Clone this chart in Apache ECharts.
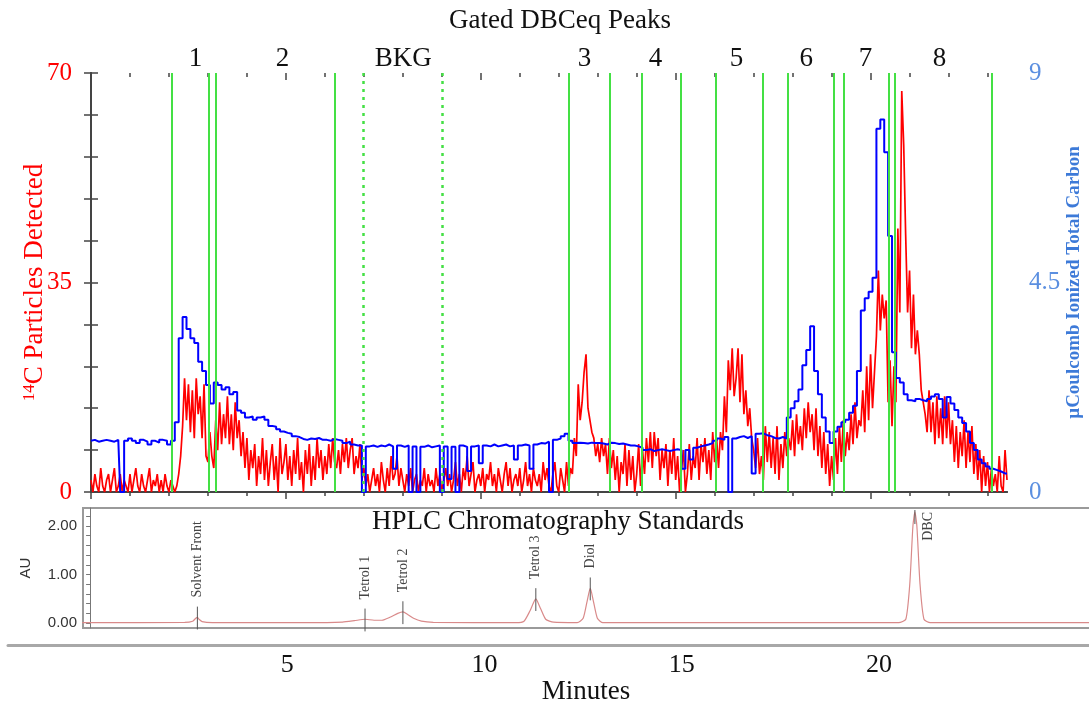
<!DOCTYPE html>
<html><head><meta charset="utf-8">
<script src="https://cdn.jsdelivr.net/npm/echarts@6/dist/echarts.min.js"></script>
<style>html,body{margin:0;padding:0;background:#fff}#c{width:1089px;height:706px}</style>
</head><body><div id="c"></div>
<script>
// ---------- DATA ----------
const redStepMin = 0.05;  // 14C trace sampled every 0.05 min from 0
const blueStepMin = 0.1;  // carbon trace sampled every 0.1 min from 0
const c14Counts = [
  2,0,3,1,0,4,1,0,2,3,   0,2,4,0,1,3,0,2,1,0,
  3,0,2,4,1,0,3,1,0,2,   4,0,2,1,3,0,2,0,3,1,
  0,2,1,0,1,3,6,11,19,12, 18,10,17,9,19,13,16,9,18,6,
  5,10,6,4,12,7,15,8,13,9, 16,8,13,7,15,9,12,6,10,4,
  9,2,7,4,8,1,6,3,9,2,   7,1,5,8,2,6,0,9,3,5,
  8,2,6,1,7,3,9,2,5,0,   7,3,8,1,6,2,9,4,7,2,
  6,3,8,4,9,5,4,7,3,8,   5,9,4,7,9,3,6,4,8,2,
  4,1,3,0,2,4,1,3,0,5,   2,0,4,1,6,2,3,6,1,4,
  2,0,3,1,4,0,2,3,0,2,   1,4,0,3,1,2,0,4,1,3,
  0,2,4,1,3,0,2,5,1,3,   0,4,2,6,1,3,5,0,2,3,
  1,4,0,3,2,5,1,3,0,4,   2,0,3,5,1,4,0,2,3,1,
  4,0,2,5,1,3,0,4,2,1,   3,0,5,2,4,1,0,3,5,1,
  0,4,2,0,5,1,4,3,9,6,   18,12,15,20,23,14,14,10,9,6,
  8,5,9,6,8,3,9,4,7,2,   6,0,5,3,8,1,7,2,6,0,
  3,8,1,7,3,9,5,10,4,10, 6,9,2,7,4,8,1,7,3,9,
  2,6,0,4,7,0,3,8,2,6,   4,9,2,8,5,9,3,7,2,10,
  5,9,4,10,7,16,10,22,17,24, 16,19,24,15,23,13,17,11,14,9,
  7,4,9,3,6,2,11,5,10,4, 9,3,11,2,8,4,10,6,9,7,
  12,6,13,8,11,7,14,9,15,10, 13,7,14,6,11,4,10,3,8,1,
  6,2,9,3,11,5,12,6,10,7, 13,8,15,9,12,11,17,10,21,12,
  23,14,20,26,37,27,33,29,32,15, 22,11,21,15,44,30,67,58,43,30,
  37,24,33,23,27,23,17,15,13,10, 17,10,15,8,16,9,14,8,16,9,
  15,8,12,5,11,4,10,6,12,4, 10,5,11,3,8,2,7,0,6,1,
  5,0,4,1,3,0,6,1,0,7,
  2
];
const totalCarbon = [
  1.1,1.12,1.08,1.1,1.12,1.1,1.08,1.12,0,1.1,
  1.15,1.1,1.05,1.12,1.08,1.02,1.1,1.06,1.12,1.1,
  1.02,1.1,1.5,3.3,3.76,3.5,3.3,3.2,2.8,2.6,
  2.3,1.9,2.35,2.3,2.2,2.25,2.1,2.15,1.75,1.7,
  1.6,1.62,1.55,1.6,1.62,1.55,1.42,1.4,1.35,1.3,
  1.27,1.25,1.2,1.18,1.14,1.12,1.15,1.14,1.16,1.12,
  1.12,1.1,1.14,1.12,1.1,1.05,1.08,1.02,1.0,1.0,
  0,0.98,1.0,0.97,1.0,0.98,1.02,0.98,0.5,1.0,
  0.97,1.0,0,0.98,0,0.97,1.0,0.96,0.98,1.0,
  0,0.98,0.28,0.97,0,1.0,0.97,0.45,0.98,1.0,
  0.62,1.0,0.98,1.02,0.98,1.0,1.02,0.98,1.0,0.7,
  1.0,1.02,1.0,0.5,1.02,1.05,1.04,1.08,0,1.12,
  1.15,1.2,1.25,1.1,1.05,1.06,1.05,1.04,1.06,1.05,
  1.05,1.04,1.02,1.06,1.05,1.03,1.04,1.02,1.0,1.0,
  0.98,0.95,0.9,0.92,0.88,0.9,0.92,0.9,0.88,0.9,
  0.92,0.9,0.5,0.9,0.7,0.95,0.98,1.0,1.02,1.05,
  1.1,1.15,1.12,1.18,0,1.15,1.18,1.2,1.16,1.2,
  0.4,1.25,1.26,1.22,1.2,1.16,1.15,1.18,1.15,1.6,
  1.8,1.95,2.2,2.72,3.05,3.56,2.6,2.1,1.6,1.3,
  1.05,1.3,1.4,1.5,1.55,1.7,1.85,2.6,3.9,4.16,
  4.3,4.6,7.8,8.0,7.3,5.5,3.0,2.45,2.35,2.1,
  1.97,1.95,2.0,1.97,1.95,2.0,2.05,2.1,2.0,1.6,
  2.04,1.9,1.76,1.6,1.48,1.3,1.05,0.9,0.7,0.62,
  0.55,0.5,0.47,0.44,0.4,0.4
];
const gateSolidMin = [2.08, 3.02, 3.19, 6.26, 12.25, 13.30, 14.14, 15.14, 16.02, 17.23, 17.88, 19.06, 19.31, 20.47, 20.63, 23.11];
const gateDottedMin = [6.99, 9.00];
const peakLabels = ['1', '2', 'BKG', '3', '4', '5', '6', '7', '8'];
const peakLabelMin = [2.68, 4.91, 8.01, 12.66, 14.48, 16.56, 18.35, 19.87, 21.77];

const hplcTime = [-0.2, 2.4, 2.6, 2.68, 2.72, 2.76, 2.84, 3.1, 6.0, 6.4, 6.7, 6.97, 7.2, 7.4, 7.6, 7.8, 7.93, 8.05, 8.2, 8.4, 8.7, 10.8, 11.0, 11.15, 11.3, 11.42, 11.55, 11.75, 12.35, 12.5, 12.6, 12.68, 12.76, 12.86, 13.0, 20.5, 20.68, 20.78, 20.86, 20.91, 20.96, 21.04, 21.14, 21.3, 25.4];
const hplcAU = [0.01, 0.015, 0.04, 0.1, 0.12, 0.08, 0.03, 0.01, 0.01, 0.02, 0.05, 0.08, 0.06, 0.06, 0.12, 0.2, 0.23, 0.18, 0.1, 0.04, 0.015, 0.01, 0.04, 0.25, 0.5, 0.3, 0.08, 0.02, 0.01, 0.1, 0.45, 0.72, 0.45, 0.1, 0.01, 0.01, 0.08, 0.8, 2.0, 2.29, 2.0, 0.8, 0.08, 0.01, 0.01];
const hplcNames = ['Solvent Front', 'Tetrol 1', 'Tetrol 2', 'Tetrol 3', 'Diol', 'DBC'];
const hplcPeakMin = [2.72, 6.97, 7.93, 11.3, 12.68, 20.91];
const hplcPeakAU = [0.12, 0.08, 0.23, 0.5, 0.72, 2.29];
const minutesTicks = [5, 10, 15, 20];

// ---------- CHART ----------
const SERIF = '"Liberation Serif", "Times New Roman", serif';
const SANS = '"Liberation Sans", Arial, sans-serif';
const RED = '#ff0000', BLUE = '#0000ff', GREEN = '#44e044';
const AXIS = '#444';
const minuteTicks = []; for (let m = 0; m <= 23; m++) minuteTicks.push(m);
const majorTicks = [0, 5, 10, 15, 20];
const auTicks = []; for (let k = 0; k <= 11; k++) auTicks.push(+(k * 0.2).toFixed(1));

const redPts = c14Counts.map((v, i) => [+(i * redStepMin).toFixed(2), v]);
const bluePts = totalCarbon.map((v, i) => [+(i * blueStepMin).toFixed(2), v]);
const hplcPts = hplcTime.map((t, i) => [t, hplcAU[i]]);
const hplcMarks = hplcPeakMin.map((t, i) => [t, hplcPeakAU[i]]);

const mainGrid = { left: 91, right: 82, top: 73, height: 419, outerBoundsMode: 'none', containLabel: false };
const chart = echarts.init(document.getElementById('c'), null, { renderer: 'canvas' });

function nearestLabel(v) {
  let best = 0, d = 1e9;
  peakLabelMin.forEach((p, i) => { if (Math.abs(p - v) < d) { d = Math.abs(p - v); best = i; } });
  return peakLabels[best];
}
function tickAxis(grid, pos, ticks, len, inside) {
  return { gridIndex: grid, type: 'value', position: pos, min: 0, max: 23.5,
    axisLine: { show: false },
    axisTick: { show: true, customValues: ticks, length: len, inside: inside, lineStyle: { color: AXIS, width: 1.5 } },
    axisLabel: { show: false }, splitLine: { show: false } };
}

const option = {
  animation: false,
  backgroundColor: '#fff',
  grid: [
    Object.assign({}, mainGrid),
    Object.assign({}, mainGrid),
    { left: 83, right: -3, top: 508, bottom: 78, show: true, borderColor: '#9a9a9a', borderWidth: 2, backgroundColor: 'transparent', outerBoundsMode: 'none', containLabel: false },
    { left: 8, right: 0, top: 644, height: 1, outerBoundsMode: 'none', containLabel: false },
    Object.assign({}, mainGrid)
  ],
  xAxis: [
    { gridIndex: 0, type: 'value', position: 'bottom', min: 0, max: 23.5,
      axisLine: { lineStyle: { color: AXIS, width: 2 } },
      axisTick: { show: false }, axisLabel: { show: false }, splitLine: { show: false } },
    { gridIndex: 0, type: 'value', position: 'top', min: 0, max: 23.5,
      axisLine: { lineStyle: { color: AXIS, width: 2 } },
      axisTick: { show: false },
      axisLabel: { customValues: peakLabelMin, formatter: v => nearestLabel(v), color: '#111', fontFamily: SERIF, fontSize: 27, margin: 1 },
      splitLine: { show: false } },
    tickAxis(1, 'bottom', minuteTicks, 4, false),
    tickAxis(1, 'top', minuteTicks, 4, true),
    { gridIndex: 2, type: 'value', min: -0.18, max: 25.4, show: false },
    { gridIndex: 3, type: 'value', position: 'bottom', min: -2.08, max: 25.32,
      axisLine: { lineStyle: { color: '#a8a8a8', width: 3 } },
      axisTick: { show: false },
      axisLabel: { customValues: minutesTicks, color: '#111', fontFamily: SERIF, fontSize: 26, margin: 7 },
      splitLine: { show: false } },
    tickAxis(4, 'bottom', majorTicks, 7, false),
    tickAxis(4, 'top', majorTicks, 7, true)
  ],
  yAxis: [
    { gridIndex: 0, type: 'value', position: 'left', min: 0, max: 70, interval: 7,
      axisLine: { show: true, lineStyle: { color: AXIS, width: 2 } },
      axisTick: { show: true, length: 7, lineStyle: { color: AXIS, width: 1.5 } },
      axisLabel: { customValues: [0, 35, 70], color: RED, fontFamily: SERIF, fontSize: 25, margin: 19 },
      splitLine: { show: false },
      name: '{s|14}C Particles Detected', nameLocation: 'middle', nameRotate: 90, nameGap: 43, nameMoveOverlap: false,
      nameTextStyle: { color: RED, fontFamily: SERIF, fontSize: 27,
        rich: { s: { color: RED, fontFamily: SERIF, fontSize: 17, verticalAlign: 'top', padding: [0, 0, 8, 0] } } } },
    { gridIndex: 0, type: 'value', position: 'right', min: 0, max: 9, interval: 0.9,
      axisLine: { show: true, lineStyle: { color: AXIS, width: 2 } },
      axisTick: { show: true, length: 7, lineStyle: { color: AXIS, width: 1.5 } },
      axisLabel: { customValues: [0, 4.5, 9], formatter: v => String(+v.toFixed(1)), color: '#5b8fe0', fontFamily: SERIF, fontSize: 25, margin: 22 },
      splitLine: { show: false },
      name: 'µCoulcomb Ionized Total Carbon', nameLocation: 'middle', nameRotate: 90, nameGap: 58, nameMoveOverlap: false,
      nameTextStyle: { color: '#3d7ad8', fontFamily: SERIF, fontSize: 19, fontWeight: 'bold' } },
    { gridIndex: 1, type: 'value', min: 0, max: 1, show: false },
    { gridIndex: 2, type: 'value', min: -0.1, max: 2.37,
      axisLine: { show: true, lineStyle: { color: '#777', width: 1 } },
      axisTick: { customValues: auTicks, length: 4, lineStyle: { color: '#777' } },
      axisLabel: { customValues: [0, 1, 2], formatter: v => v.toFixed(2), color: '#333', fontFamily: SANS, fontSize: 15, margin: 6 },
      splitLine: { show: false },
      name: 'AU', nameLocation: 'middle', nameRotate: 90, nameGap: 50, nameMoveOverlap: false,
      nameTextStyle: { color: '#333', fontFamily: SANS, fontSize: 15 } },
    { gridIndex: 3, type: 'value', min: 0, max: 1, show: false },
    { gridIndex: 4, type: 'value', min: 0, max: 1, show: false }
  ],
  graphic: [
    { type: 'text', x: 560, y: 21, style: { text: 'Gated DBCeq Peaks', align: 'center', verticalAlign: 'middle', font: '27px ' + SERIF, fill: '#111' } },
    { type: 'text', x: 558, y: 522, z: 10, style: { text: 'HPLC Chromatography Standards', align: 'center', verticalAlign: 'middle', font: '27px ' + SERIF, fill: '#111' } },
    { type: 'text', x: 586, y: 692, style: { text: 'Minutes', align: 'center', verticalAlign: 'middle', font: '27px ' + SERIF, fill: '#111' } }
  ],
  series: [
    { name: '14C', type: 'line', xAxisIndex: 0, yAxisIndex: 0, data: redPts, symbol: 'none',
      lineStyle: { color: RED, width: 1.7 }, z: 2, clip: true },
    { name: 'Carbon', type: 'line', xAxisIndex: 0, yAxisIndex: 1, data: bluePts, step: 'middle', symbol: 'none',
      lineStyle: { color: BLUE, width: 2 }, z: 3, clip: true },
    { name: 'gates', type: 'line', xAxisIndex: 0, yAxisIndex: 0, data: [], z: 4,
      markLine: { silent: true, symbol: ['none', 'none'], label: { show: false }, animation: false,
        lineStyle: { color: GREEN, width: 2, type: 'solid' },
        emphasis: { disabled: true },
        data: gateSolidMin.map(t => ({ xAxis: t })) } },
    { name: 'gatesBkg', type: 'line', xAxisIndex: 0, yAxisIndex: 0, data: [], z: 4,
      markLine: { silent: true, symbol: ['none', 'none'], label: { show: false }, animation: false,
        lineStyle: { color: GREEN, width: 2.5, type: [3, 5] },
        emphasis: { disabled: true },
        data: gateDottedMin.map(t => ({ xAxis: t })) } },
    { name: 'HPLC', type: 'line', xAxisIndex: 4, yAxisIndex: 3, data: hplcPts, symbol: 'none', smooth: 0.2,
      lineStyle: { color: '#d98a8a', width: 1.2 } },
    { name: 'HPLC marks', type: 'custom', xAxisIndex: 4, yAxisIndex: 3, data: hplcMarks, z: 5,
      renderItem: function (params, api) {
        const t = api.value(0), h = api.value(1);
        const cs = params.coordSys;
        const top = api.coord([t, h + 0.22]);
        const bot = api.coord([t, h - 0.25]);
        const y1 = Math.max(top[1], cs.y + 2);
        const name = hplcNames[params.dataIndex];
        const approxLen = name.length * 6.5;
        let tx = top[0], ty = y1 - 9, align = 'left';
        if (ty - approxLen < cs.y + 2) { tx = top[0] + 13; ty = cs.y + 4; align = 'right'; }
        return { type: 'group', children: [
          { type: 'line', shape: { x1: top[0], y1: y1, x2: bot[0], y2: bot[1] }, style: { stroke: '#555', lineWidth: 1 } },
          { type: 'text', x: tx, y: ty, rotation: Math.PI / 2,
            style: { text: name, fill: '#444', font: '14px ' + SERIF, align: align, verticalAlign: 'middle' } }
        ] };
      } }
  ]
};
chart.setOption(option);
</script>
</body></html>
